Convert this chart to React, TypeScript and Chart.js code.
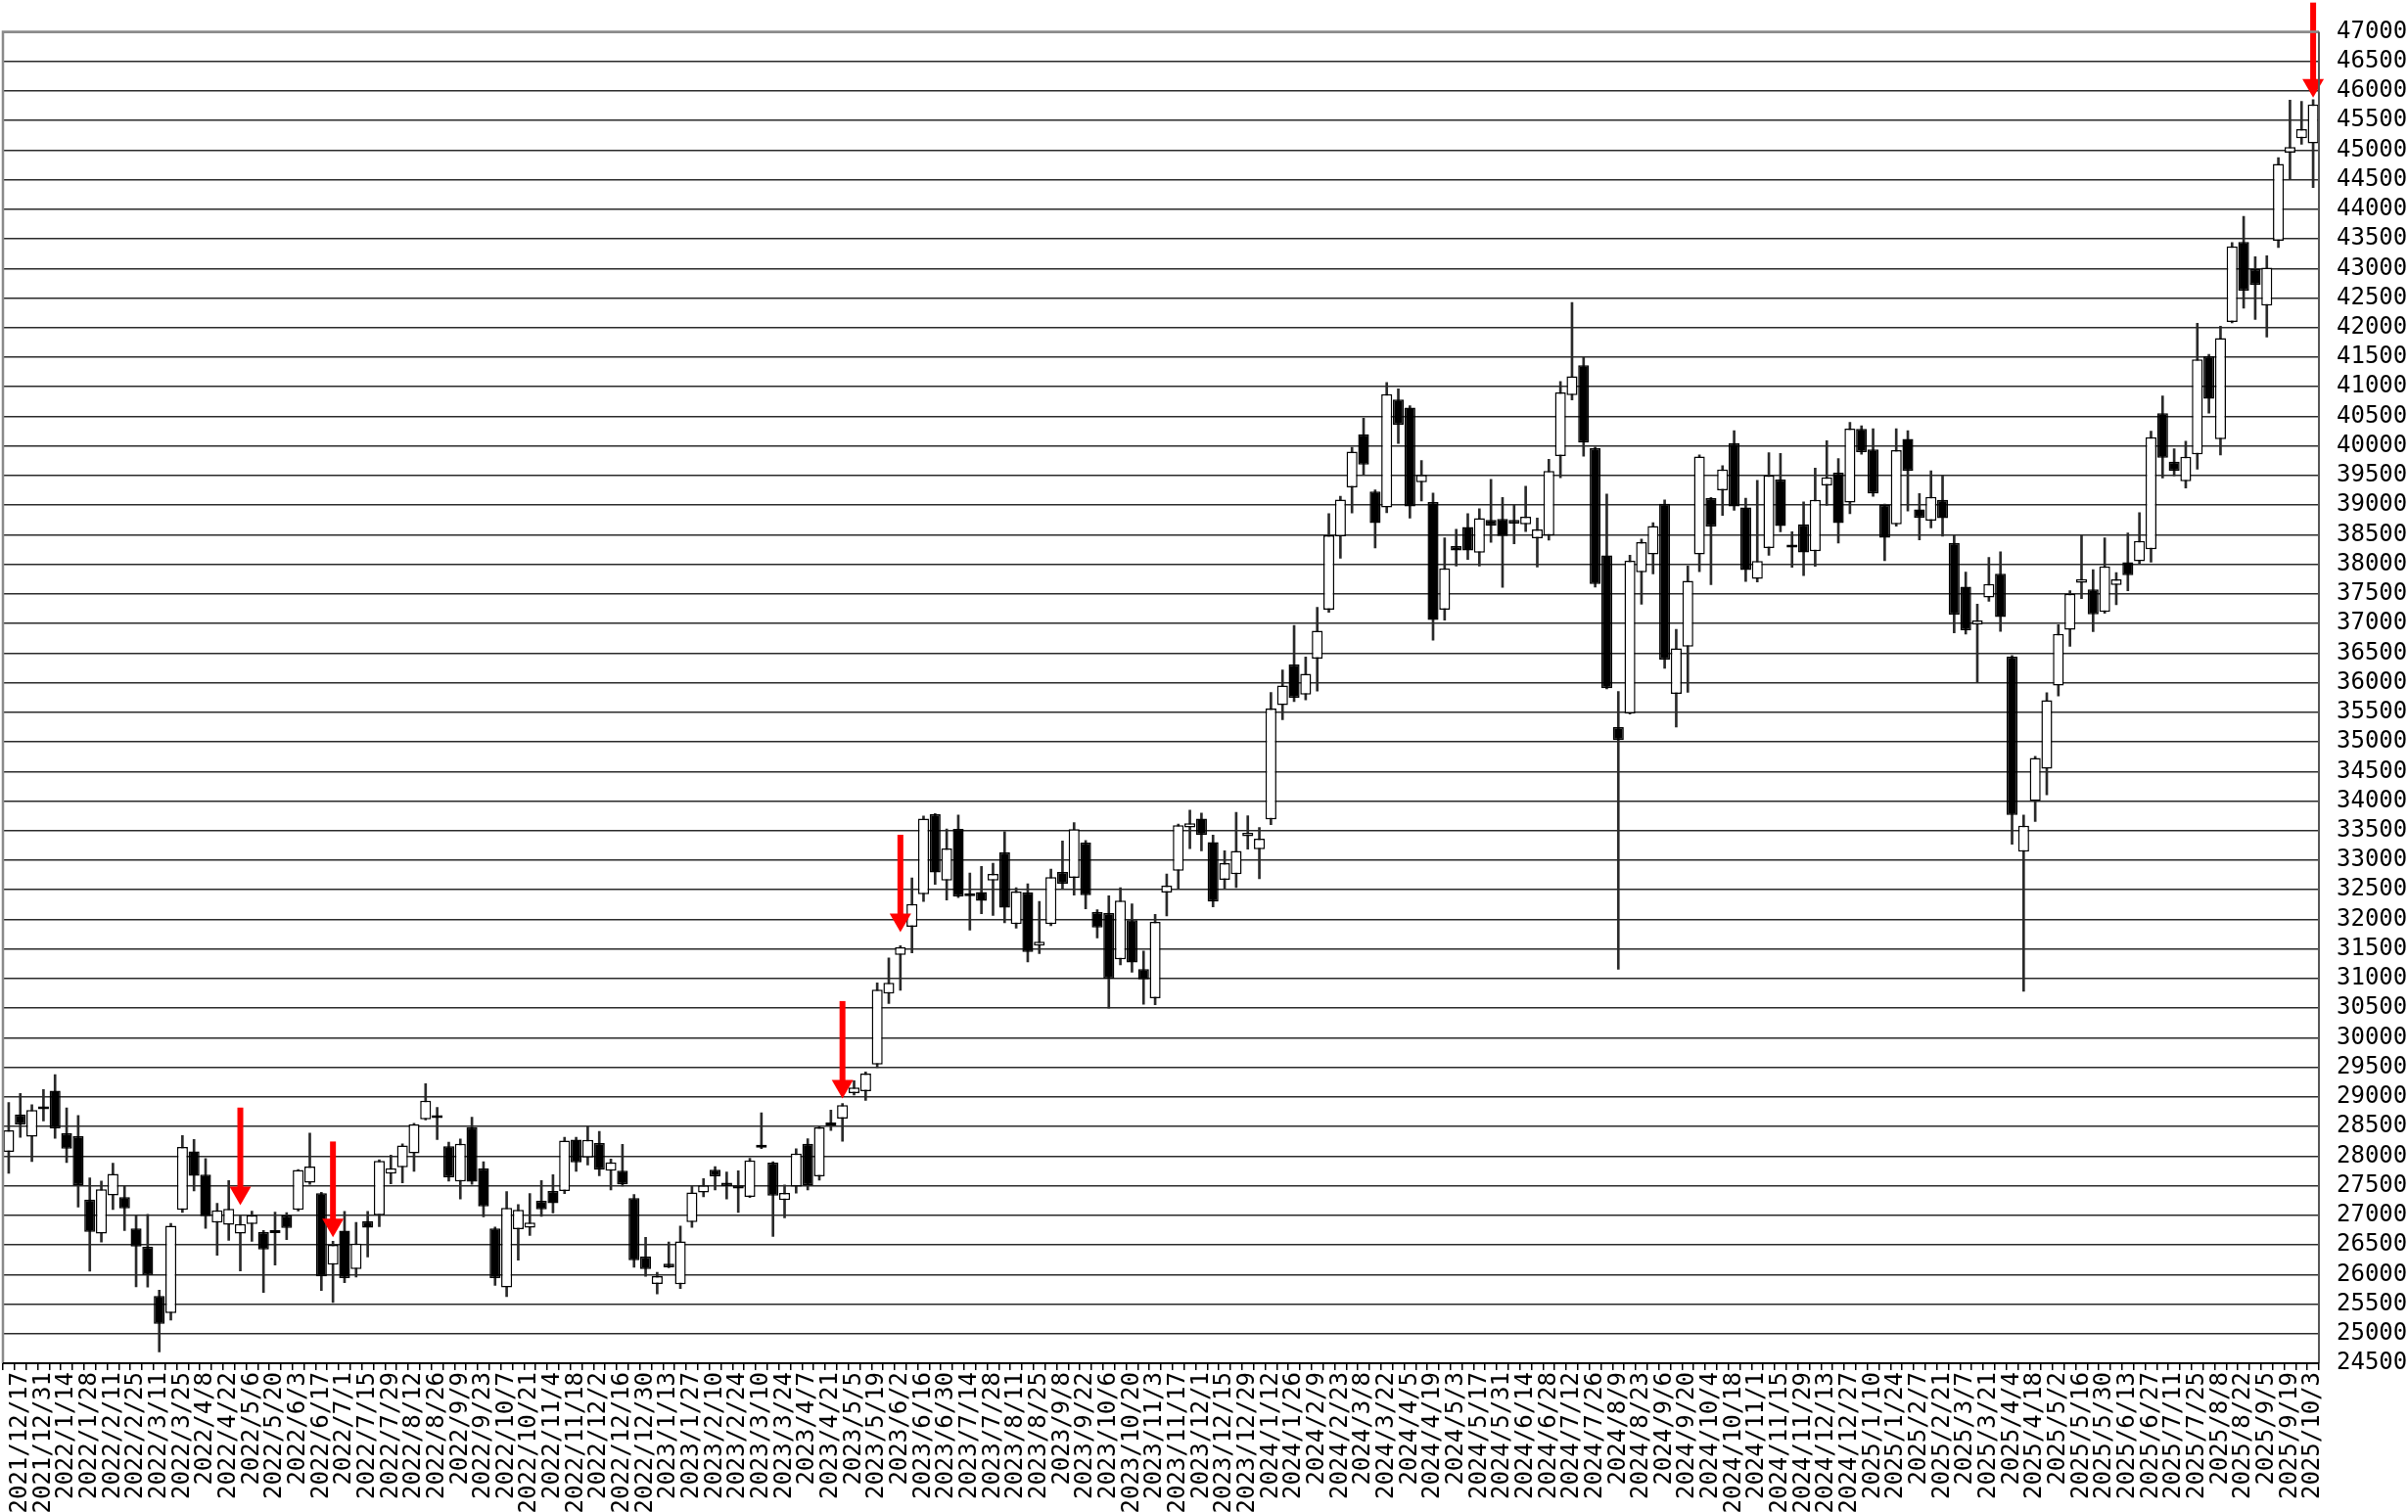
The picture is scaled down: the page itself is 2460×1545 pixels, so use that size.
import React, { useEffect, useRef } from 'react';
import { Chart, registerables } from 'chart.js';

Chart.register(...registerables);

const dates: string[] = [
  '2021/12/10', '2021/12/17', '2021/12/24', '2021/12/31',
  '2022/1/7', '2022/1/14', '2022/1/21', '2022/1/28', '2022/2/4', '2022/2/11', '2022/2/18', '2022/2/25',
  '2022/3/4', '2022/3/11', '2022/3/18', '2022/3/25', '2022/4/1', '2022/4/8', '2022/4/15', '2022/4/22',
  '2022/4/29', '2022/5/6', '2022/5/13', '2022/5/20', '2022/5/27', '2022/6/3', '2022/6/10', '2022/6/17',
  '2022/6/24', '2022/7/1', '2022/7/8', '2022/7/15', '2022/7/22', '2022/7/29', '2022/8/5', '2022/8/12',
  '2022/8/19', '2022/8/26', '2022/9/2', '2022/9/9', '2022/9/16', '2022/9/23', '2022/9/30', '2022/10/7',
  '2022/10/14', '2022/10/21', '2022/10/28', '2022/11/4', '2022/11/11', '2022/11/18', '2022/11/25',
  '2022/12/2', '2022/12/9', '2022/12/16', '2022/12/23', '2022/12/30',
  '2023/1/6', '2023/1/13', '2023/1/20', '2023/1/27', '2023/2/3', '2023/2/10', '2023/2/17', '2023/2/24',
  '2023/3/3', '2023/3/10', '2023/3/17', '2023/3/24', '2023/3/31', '2023/4/7', '2023/4/14', '2023/4/21',
  '2023/4/28', '2023/5/5', '2023/5/12', '2023/5/19', '2023/5/26', '2023/6/2', '2023/6/9', '2023/6/16',
  '2023/6/23', '2023/6/30', '2023/7/7', '2023/7/14', '2023/7/21', '2023/7/28', '2023/8/4', '2023/8/11',
  '2023/8/18', '2023/8/25', '2023/9/1', '2023/9/8', '2023/9/15', '2023/9/22', '2023/9/29', '2023/10/6',
  '2023/10/13', '2023/10/20', '2023/10/27', '2023/11/3', '2023/11/10', '2023/11/17', '2023/11/24',
  '2023/12/1', '2023/12/8', '2023/12/15', '2023/12/22', '2023/12/29',
  '2024/1/5', '2024/1/12', '2024/1/19', '2024/1/26', '2024/2/2', '2024/2/9', '2024/2/16', '2024/2/23',
  '2024/3/1', '2024/3/8', '2024/3/15', '2024/3/22', '2024/3/29', '2024/4/5', '2024/4/12', '2024/4/19',
  '2024/4/26', '2024/5/3', '2024/5/10', '2024/5/17', '2024/5/24', '2024/5/31', '2024/6/7', '2024/6/14',
  '2024/6/21', '2024/6/28', '2024/7/5', '2024/7/12', '2024/7/19', '2024/7/26', '2024/8/2', '2024/8/9',
  '2024/8/16', '2024/8/23', '2024/8/30', '2024/9/6', '2024/9/13', '2024/9/20', '2024/9/27', '2024/10/4',
  '2024/10/11', '2024/10/18', '2024/10/25', '2024/11/1', '2024/11/8', '2024/11/15', '2024/11/22',
  '2024/11/29', '2024/12/6', '2024/12/13', '2024/12/20', '2024/12/27',
  '2025/1/3', '2025/1/10', '2025/1/17', '2025/1/24', '2025/1/31', '2025/2/7', '2025/2/14', '2025/2/21',
  '2025/2/28', '2025/3/7', '2025/3/14', '2025/3/21', '2025/3/28', '2025/4/4', '2025/4/11', '2025/4/18',
  '2025/4/25', '2025/5/2', '2025/5/9', '2025/5/16', '2025/5/23', '2025/5/30', '2025/6/6', '2025/6/13',
  '2025/6/20', '2025/6/27', '2025/7/4', '2025/7/11', '2025/7/18', '2025/7/25', '2025/8/1', '2025/8/8',
  '2025/8/15', '2025/8/22', '2025/8/29', '2025/9/5', '2025/9/12', '2025/9/19', '2025/9/26', '2025/10/3',
];

const opens: number[] = [
  28071, 28703, 28330, 28810, 29104, 28385, 28335, 27264, 26692, 27335, 27307, 26780, 26467, 25637, 25346, 27093, 28082, 27687, 26879, 26840,
  26692, 26851, 26714, 26700, 26995, 27093, 27549, 27374, 26165, 26742, 26093, 26901, 27000, 27703, 27813, 28049, 28621, 28660, 28165, 27571,
  28489, 27797, 26780, 25780, 26764, 26791, 27247, 27412, 27412, 28280, 27978, 28220, 27753, 27753, 27291, 26302, 25840, 26181, 25835, 26884,
  27385, 27769, 27550, 27505, 27313, 28187, 27890, 27258, 27483, 28210, 27659, 28520, 28635, 29064, 29097, 29549, 30745, 31401, 31875, 32426,
  33776, 32657, 33528, 32420, 32464, 32657, 33131, 31921, 32460, 31558, 31921, 32801, 32702, 33296, 32125, 32108, 31327, 31987, 31162, 30667,
  32454, 32823, 33555, 33701, 33306, 32668, 32763, 33406, 33188, 33690, 35621, 36306, 35798, 36406, 37233, 38473, 39299, 40197, 39229, 38963,
  40785, 40648, 39388, 39054, 37233, 38310, 38629, 38196, 38750, 38766, 38750, 38675, 38440, 38485, 39828, 40861, 41362, 39960, 38153, 35249,
  35480, 37866, 38169, 39023, 35811, 36610, 38169, 39117, 39249, 40048, 38963, 37756, 38274, 39431, 38300, 38677, 38221, 39335, 39550, 39044,
  40290, 39943, 39006, 38677, 40120, 38930, 38740, 39089, 38360, 37620, 36981, 37441, 37843, 36438, 33143, 34002, 34548, 35953, 36895, 37688,
  37578, 37198, 37650, 38036, 38052, 38256, 40554, 39733, 39405, 39860, 41518, 40113, 42094, 43449, 42993, 42373, 43468, 44955, 45202, 45114,
];

const highs: number[] = [
  28907, 29060, 28868, 29126, 29379, 28813, 28687, 27632, 27577, 27879, 27494, 27000, 27016, 25736, 26862, 28346, 28280, 27961, 27203, 27588,
  26990, 27071, 26742, 27055, 27044, 27775, 28390, 27390, 26560, 27066, 26879, 27066, 27940, 28016, 28209, 28555, 29225, 28824, 28236, 28291,
  28659, 27906, 26800, 27401, 27181, 27368, 27588, 27687, 28319, 28319, 28511, 28418, 27951, 28198, 27351, 26626, 26038, 26549, 26818, 27494,
  27621, 27824, 27731, 27753, 27962, 28731, 27907, 27511, 28126, 28293, 28514, 28778, 28888, 29274, 29423, 30927, 31351, 31555, 32701, 33748,
  33790, 33528, 33764, 32784, 32894, 32949, 33483, 32537, 32603, 32306, 32851, 33324, 33637, 33335, 32163, 32400, 32537, 32262, 31465, 32086,
  32768, 33610, 33846, 33796, 33424, 33158, 33808, 33749, 33554, 35833, 36217, 36967, 36435, 37274, 38857, 39152, 39978, 40469, 39258, 41071,
  40967, 40678, 39752, 39206, 38447, 38591, 38857, 38940, 39434, 39130, 39009, 39320, 38781, 39775, 41088, 42424, 41498, 39980, 39189, 35850,
  38153, 38428, 38704, 39089, 36902, 37971, 39850, 39130, 39668, 40258, 39117, 39420, 39888, 39872, 38550, 39057, 39626, 40089, 39785, 40399,
  40340, 40291, 39020, 40291, 40259, 39196, 39582, 39500, 38487, 37867, 37329, 38118, 38212, 36460, 33765, 34757, 35832, 36978, 37556, 38493,
  37909, 38449, 37860, 38532, 38873, 40251, 40846, 39953, 40082, 42075, 41550, 42025, 43436, 43879, 43196, 43215, 44873, 45842, 45823, 45852,
];

const lows: number[] = [
  27709, 28319, 27906, 28593, 28302, 27890, 27137, 26055, 26549, 27099, 26742, 25791, 25785, 24692, 25230, 27050, 27412, 26780, 26324, 26577,
  26060, 26560, 25697, 26159, 26588, 27071, 27522, 25730, 25527, 25862, 25956, 26296, 26808, 27533, 27549, 27742, 28610, 28280, 27577, 27275,
  27522, 26972, 25818, 25626, 26241, 26659, 26983, 27038, 27368, 27742, 27852, 27670, 27428, 27494, 26121, 25967, 25670, 26115, 25764, 26797,
  27313, 27428, 27275, 27049, 27302, 28127, 26643, 26956, 27373, 27428, 27593, 28431, 28249, 29031, 28943, 29494, 30580, 30800, 31434, 32304,
  32591, 32326, 32370, 31819, 32095, 32068, 31943, 31850, 31283, 31420, 31894, 32526, 32410, 32180, 31685, 30502, 31230, 31107, 30568, 30557,
  32058, 32510, 33197, 33158, 32213, 32508, 32538, 33188, 32686, 33601, 35373, 35680, 35709, 35857, 37191, 38101, 38868, 39518, 38278, 38870,
  40041, 38781, 39069, 36716, 37058, 37969, 38083, 37969, 38371, 37612, 38348, 38553, 37954, 38409, 39464, 40777, 39828, 37613, 35894, 31156,
  35470, 37326, 37839, 36241, 35249, 35839, 37877, 37657, 38825, 38913, 37712, 37700, 38153, 38550, 37949, 37810, 37968, 38994, 38360, 38854,
  39860, 39150, 38063, 38645, 38899, 38411, 38614, 38474, 36841, 36822, 36006, 37374, 36868, 33269, 30787, 33655, 34107, 35777, 36614, 37419,
  36862, 37171, 37319, 37551, 38008, 38036, 39457, 39496, 39290, 39607, 40556, 39847, 42080, 42329, 42139, 41841, 43354, 44512, 45100, 44367,
];

const closes: number[] = [
  28434, 28533, 28780, 28791, 28467, 28126, 27505, 26720, 27439, 27698, 27115, 26472, 25994, 25164, 26824, 28154, 27665, 26984, 27082, 27110,
  26851, 27000, 26423, 26740, 26786, 27764, 27824, 25967, 26500, 25939, 26522, 26791, 27918, 27797, 28181, 28538, 28934, 28641, 27643, 28209,
  27566, 27148, 25939, 27126, 27093, 26879, 27099, 27203, 28264, 27896, 28275, 27769, 27896, 27522, 26241, 26093, 25972, 26119, 26560, 27385,
  27505, 27659, 27494, 27450, 27929, 28143, 27330, 27379, 28041, 27505, 28486, 28564, 28861, 29158, 29395, 30811, 30927, 31533, 32260, 33704,
  32795, 33197, 32387, 32391, 32315, 32767, 32196, 32471, 31448, 31624, 32713, 32603, 33527, 32410, 31861, 30997, 32317, 31272, 30986, 31960,
  32570, 33593, 33626, 33424, 32302, 32952, 33158, 33464, 33365, 35562, 35951, 35745, 36152, 36878, 38490, 39093, 39902, 39683, 38697, 40876,
  40360, 38978, 39510, 37058, 37931, 38234, 38234, 38781, 38652, 38477, 38690, 38804, 38591, 39578, 40906, 41179, 40056, 37668, 35905, 35029,
  38059, 38373, 38649, 36389, 36582, 37723, 39822, 38638, 39602, 38979, 37905, 38054, 39503, 38649, 38283, 38202, 39088, 39468, 38696, 40291,
  39894, 39196, 38449, 39930, 39576, 38785, 39139, 38778, 37145, 36886, 37050, 37667, 37110, 33765, 33584, 34730, 35705, 36823, 37501, 37749,
  37154, 37964, 37744, 37815, 38394, 40146, 39799, 39578, 39816, 41461, 40797, 41822, 43373, 42626, 42721, 43012, 44765, 45050, 45354, 45772,
];

const yMin = 24500;
const yMax = 47000;
const yStep = 500;

// Red arrow annotations: category index, price at shaft top, price at tip
const arrowIdx: number[] = [20, 28, 72, 77, 199];
const arrowFrom: number[] = [28820, 28247, 30620, 33430, 47492];
const arrowTo: number[] = [27170, 26630, 28975, 31785, 45888];

const arrowPlugin = {
  id: 'redArrows',
  afterDatasetsDraw(chart: any) {
    const { ctx } = chart;
    const x = chart.scales.x;
    const y = chart.scales.y;
    ctx.save();
    ctx.fillStyle = '#ff0000';
    arrowIdx.forEach((idx, k) => {
      const px = x.getPixelForValue(idx);
      const y0 = y.getPixelForValue(arrowFrom[k]);
      const y1 = y.getPixelForValue(arrowTo[k]);
      const headH = 19;
      const headW = 11;
      ctx.fillRect(px - 3, y0, 6, y1 - headH - y0 + 1);
      ctx.beginPath();
      ctx.moveTo(px - headW, y1 - headH);
      ctx.lineTo(px + headW, y1 - headH);
      ctx.lineTo(px, y1);
      ctx.closePath();
      ctx.fill();
    });
    ctx.restore();
  },
};

const framePlugin = {
  id: 'frame',
  afterDraw(chart: any) {
    const { ctx, chartArea } = chart;
    const { left, right, top, bottom } = chartArea;
    ctx.save();
    ctx.strokeStyle = '#8a8a8a';
    ctx.lineWidth = 2.5;
    ctx.beginPath();
    ctx.moveTo(left, bottom);
    ctx.lineTo(left, top);
    ctx.lineTo(right, top);
    ctx.stroke();
    ctx.strokeStyle = '#555';
    ctx.lineWidth = 2;
    ctx.beginPath();
    ctx.moveTo(right, top);
    ctx.lineTo(right, bottom);
    ctx.stroke();
    ctx.strokeStyle = '#000';
    ctx.beginPath();
    ctx.moveTo(left, bottom);
    ctx.lineTo(right, bottom);
    ctx.stroke();
    ctx.restore();
  },
};

export default function App() {
  const canvasRef = useRef<HTMLCanvasElement | null>(null);

  useEffect(() => {
    const canvas = canvasRef.current;
    if (!canvas) return;
    Chart.defaults.color = '#000';

    const bodies = dates.map((_, i) => [Math.min(opens[i], closes[i]), Math.max(opens[i], closes[i])]);
    const wicks = dates.map((_, i) => [lows[i], highs[i]]);
    const bodyColors = dates.map((_, i) => (closes[i] >= opens[i] ? '#ffffff' : '#000000'));

    const chart = new Chart(canvas, {
      type: 'bar',
      data: {
        labels: dates,
        datasets: [
          {
            label: 'body',
            data: bodies as any,
            backgroundColor: bodyColors,
            borderColor: '#000000',
            borderWidth: 1.5,
            borderSkipped: false,
            barPercentage: 0.94,
            categoryPercentage: 1,
            minBarLength: 3,
            grouped: false,
            order: 0,
          } as any,
          {
            label: 'wick',
            data: wicks as any,
            backgroundColor: '#2a2a2a',
            borderWidth: 0,
            barThickness: 2,
            grouped: false,
            order: 1,
          } as any,
        ],
      },
      options: {
        responsive: false,
        animation: false,
        devicePixelRatio: 1,
        layout: { padding: { top: 30, left: 3, right: 0, bottom: 0 } },
        plugins: {
          legend: { display: false },
          tooltip: { enabled: false },
          title: { display: false },
        },
        scales: {
          x: {
            type: 'category',
            offset: true,
            grid: {
              display: true,
              drawOnChartArea: false,
              drawTicks: true,
              tickLength: 7,
              color: '#000',
              lineWidth: 1.5,
              offset: true,
            },
            border: { display: false },
            ticks: {
              autoSkip: false,
              maxRotation: 90,
              minRotation: 90,
              padding: 2,
              color: '#000',
              font: { family: '"DejaVu Sans Mono", monospace', size: 24 },
              callback: (_v: any, idx: number) => (idx % 2 === 1 ? dates[idx] : ''),
            },
            afterFit: (scale: any) => {
              scale.height = 152;
            },
          },
          y: {
            type: 'linear',
            position: 'right',
            min: yMin,
            max: yMax,
            grid: {
              display: true,
              drawOnChartArea: true,
              drawTicks: false,
              color: '#2a2a2a',
              lineWidth: 1.5,
            },
            border: { display: false },
            ticks: {
              autoSkip: false,
              stepSize: yStep,
              padding: 18,
              color: '#000',
              font: { family: '"DejaVu Sans Mono", monospace', size: 24 },
              callback: (v: any) => String(v),
            },
            afterFit: (scale: any) => {
              scale.width = 91;
            },
          },
        },
      },
      plugins: [arrowPlugin, framePlugin],
    });

    return () => {
      chart.destroy();
    };
  }, []);

  return (
    <div style={{ position: 'absolute', left: 0, top: 0, width: 2460, height: 1545, background: '#fff' }}>
      <canvas ref={canvasRef} width={2460} height={1545} style={{ display: 'block' }} />
    </div>
  );
}
